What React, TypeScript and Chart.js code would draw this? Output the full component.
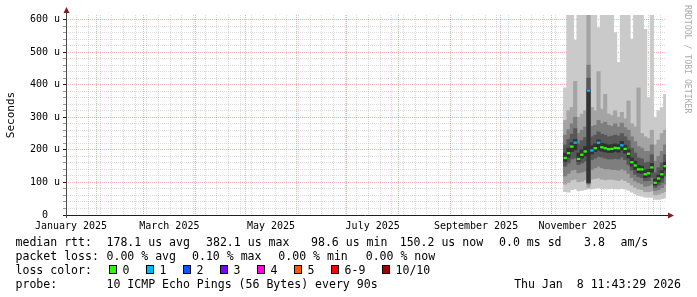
import React, { useEffect, useRef } from 'react';
import { Chart, registerables } from 'chart.js';

Chart.register(...registerables);

// ---------------- data ----------------
// centre date of each 2-day consolidated step
const STEP_DATES = [
  '2025-11-09', '2025-11-11', '2025-11-13', '2025-11-15', '2025-11-17', '2025-11-19',
  '2025-11-21', '2025-11-23', '2025-11-25', '2025-11-27', '2025-11-29', '2025-12-01',
  '2025-12-03', '2025-12-05', '2025-12-07', '2025-12-09', '2025-12-11', '2025-12-13',
  '2025-12-15', '2025-12-17', '2025-12-19', '2025-12-21', '2025-12-23', '2025-12-25',
  '2025-12-27', '2025-12-29', '2025-12-31', '2026-01-02', '2026-01-04', '2026-01-06',
  '2026-01-08',
];
const STEP_DAYS = 2;

// median rtt (microseconds)
const MEDIAN_US = [175, 190, 210, 222, 172, 185, 195, 382, 198, 205, 222, 208, 205, 202, 203, 206, 205, 214, 203, 188, 162, 152, 140, 140, 125, 128, 146, 99, 112, 125, 150];
// lost pings out of 10 for each step
const LOSS_PINGS = [0, 0, 0, 1, 0, 0, 0, 1, 1, 0, 1, 0, 0, 0, 0, 0, 0, 1, 0, 0, 0, 0, 0, 0, 0, 0, 0, 0, 0, 0, 0];

// sorted ping ranks (microseconds), 1 = fastest, 10 = slowest
const PING_1 = [72, 70, 78, 80, 75, 76, 78, 80, 80, 82, 84, 82, 80, 80, 82, 80, 80, 82, 80, 76, 70, 65, 60, 58, 55, 55, 54, 48, 48, 50, 52];
const PING_2 = [95, 100, 108, 110, 102, 104, 108, 85, 110, 112, 114, 110, 108, 110, 110, 108, 106, 110, 106, 100, 92, 85, 80, 78, 72, 72, 74, 62, 64, 68, 72];
const PING_3 = [120, 128, 138, 140, 130, 132, 135, 95, 140, 145, 150, 145, 142, 142, 140, 140, 138, 142, 138, 128, 115, 105, 100, 96, 88, 90, 95, 75, 78, 84, 95];
const PING_4 = [150, 160, 172, 175, 155, 160, 165, 98, 170, 175, 180, 178, 175, 172, 172, 174, 172, 178, 170, 155, 138, 125, 118, 115, 105, 106, 115, 85, 92, 100, 120];
const PING_5 = [165, 178, 195, 200, 165, 175, 182, 100, 188, 195, 200, 196, 194, 192, 192, 195, 193, 200, 190, 175, 150, 140, 130, 128, 115, 118, 132, 92, 102, 114, 138];
const PING_6 = [190, 205, 222, 232, 190, 200, 210, 385, 212, 218, 230, 220, 218, 215, 216, 218, 216, 226, 214, 200, 175, 165, 152, 150, 136, 140, 158, 110, 122, 136, 162];
const PING_7 = [215, 232, 248, 265, 218, 228, 238, 420, 240, 245, 255, 248, 245, 240, 242, 245, 242, 250, 240, 228, 205, 190, 175, 172, 160, 162, 185, 130, 145, 160, 185];
const PING_8 = [245, 262, 280, 300, 250, 260, 270, 460, 272, 275, 290, 280, 285, 275, 272, 280, 270, 282, 268, 260, 240, 225, 210, 205, 195, 195, 215, 165, 180, 195, 215];
const PING_9 = [290, 320, 330, 410, 300, 310, 320, 700, 330, 320, 440, 325, 370, 310, 305, 320, 300, 315, 295, 350, 280, 270, 390, 250, 240, 235, 260, 215, 230, 250, 260];
const PING_10 = [390, 700, 700, 537, 700, 700, 700, 700, 700, 700, 575, 700, 700, 700, 700, 560, 468, 700, 700, 700, 540, 700, 700, 700, 570, 360, 700, 300, 320, 330, 370];

// axes
const Y_MAX_US = 614;
const Y_TICKS_US = [0, 20, 40, 60, 80, 100, 120, 140, 160, 180, 200, 220, 240, 260, 280, 300, 320, 340, 360, 380, 400, 420, 440, 460, 480, 500, 520, 540, 560, 580, 600];
const Y_MAJOR_US = 100;
const GRAPH_END = '2026-01-08T11:43:29Z';
const GRAPH_SPAN_DAYS = 360;
const MONTH_STARTS = ['2025-01-01', '2025-02-01', '2025-03-01', '2025-04-01', '2025-05-01', '2025-06-01', '2025-07-01', '2025-08-01', '2025-09-01', '2025-10-01', '2025-11-01', '2025-12-01', '2026-01-01'];
const MONTH_LABEL_DATES = ['2025-01-01', '2025-03-01', '2025-05-01', '2025-07-01', '2025-09-01', '2025-11-01'];
const MONTH_LABELS = ['January 2025', 'March 2025', 'May 2025', 'July 2025', 'September 2025', 'November 2025'];
const WEEK_ANCHOR_MONDAY = '2024-12-30';

// legend
const LOSS_LABELS = ['0', '1', '2', '3', '4', '5', '6-9', '10/10'];
const LOSS_COLORS = ['#26ff00', '#00b8ff', '#0059ff', '#7e00ff', '#ff00ea', '#ff5600', '#ff0000', '#a10000'];
const RTT_PARTS = ['median rtt:', '178.1 us avg', '382.1 us max', '98.6 us min', '150.2 us now', '0.0 ms sd', '3.8', 'am/s'];
const LOSS_PARTS = ['packet loss:', '0.00 % avg', '0.10 % max', '0.00 % min', '0.00 % now'];
const LOSS_TITLE = 'loss color:';
const PROBE_PARTS = ['probe:', '10 ICMP Echo Pings (56 Bytes) every 90s'];
const STAMP = 'Thu Jan  8 11:43:29 2026';
const WATERMARK = 'RRDTOOL / TOBI OETIKER';
const Y_TITLE = 'Seconds';

// ---------------- styling / layout ----------------
const MONO = '"DejaVu Sans Mono", monospace';
const SMOKE_COLORS = ['#cacaca', '#a4a4a4', '#7e7e7e', '#585858', '#323232'];
const GRID_MINOR = 'rgba(143,143,143,0.32)';
const GRID_MAJOR = 'rgba(222,79,79,0.45)';
const AXIS_COLOR = '#1f1f1f';
const ARROW_COLOR = '#801f1f';
const PLOT_W = 600;
const MEDIAN_HALF_US = 3.5;
const LABEL_OFFSET_DAYS = 15.5;
const RTT_X = [15.5, 106.5, 206, 311, 399.7, 499, 584, 620.5];
const LOSS_X = [15.5, 106.5, 192, 278.3, 365.7];
const PROBE_X = [15.5, 106.5];
const LEGEND_ADV = 6.96;

const DAY0 = Date.UTC(2025, 0, 1);
const toDay = (iso: string) => (Date.parse(iso) - DAY0) / 864e5;

const X_MAX = toDay(GRAPH_END);
const X_MIN = X_MAX - GRAPH_SPAN_DAYS;
const BAR_PX = (STEP_DAYS * PLOT_W) / GRAPH_SPAN_DAYS;

function lossColor(n: number) {
  if (n >= 10) return LOSS_COLORS[7];
  if (n >= 6) return LOSS_COLORS[6];
  return LOSS_COLORS[n];
}

function buildXTicks() {
  const ticks: any[] = [];
  const months = MONTH_STARTS.map(toDay);
  const monthSet = new Set(months);
  for (let d = toDay(WEEK_ANCHOR_MONDAY); d <= X_MAX; d += 7) {
    if (d >= X_MIN && !monthSet.has(d)) ticks.push({ value: d, kind: 'minor' });
  }
  months.forEach((d) => {
    if (d >= X_MIN && d <= X_MAX) ticks.push({ value: d, kind: 'major' });
  });
  MONTH_LABEL_DATES.forEach((iso, i) => {
    ticks.push({ value: toDay(iso) + LABEL_OFFSET_DAYS, kind: 'label', text: MONTH_LABELS[i] });
  });
  ticks.sort((a, b) => a.value - b.value);
  return ticks;
}

const decorPlugin = {
  id: 'rrdDecor',
  afterDraw(chart: any) {
    const { ctx, chartArea: a } = chart;
    ctx.save();
    // axes
    ctx.lineWidth = 1;
    ctx.strokeStyle = AXIS_COLOR;
    ctx.beginPath();
    ctx.moveTo(a.left - 3, a.bottom + 0.5);
    ctx.lineTo(a.right + 2, a.bottom + 0.5);
    ctx.stroke();
    ctx.strokeStyle = '#4a4a4a';
    ctx.beginPath();
    ctx.moveTo(a.left + 0.5, a.bottom + 3);
    ctx.lineTo(a.left + 0.5, a.top - 2);
    ctx.stroke();
    // arrows
    ctx.fillStyle = ARROW_COLOR;
    ctx.beginPath();
    ctx.moveTo(a.right + 8, a.bottom + 0.5);
    ctx.lineTo(a.right + 2, a.bottom - 2.5);
    ctx.lineTo(a.right + 2, a.bottom + 3.5);
    ctx.closePath();
    ctx.fill();
    ctx.beginPath();
    ctx.moveTo(a.left + 0.5, a.top - 8);
    ctx.lineTo(a.left - 2.5, a.top - 2);
    ctx.lineTo(a.left + 3.5, a.top - 2);
    ctx.closePath();
    ctx.fill();

    // watermark
    ctx.save();
    ctx.translate(687, 5);
    ctx.rotate(Math.PI / 2);
    ctx.font = `8.2px ${MONO}`;
    ctx.fillStyle = '#aaaaaa';
    ctx.textAlign = 'left';
    ctx.textBaseline = 'middle';
    ctx.fillText(WATERMARK, 0, 0);
    ctx.restore();

    // legend text
    ctx.font = `${LEGEND_ADV / 0.602}px ${MONO}`;
    ctx.fillStyle = '#000';
    ctx.textAlign = 'left';
    ctx.textBaseline = 'alphabetic';
    RTT_PARTS.forEach((t, i) => ctx.fillText(t, RTT_X[i], 245.5));
    LOSS_PARTS.forEach((t, i) => ctx.fillText(t, LOSS_X[i], 259.5));
    ctx.fillText(LOSS_TITLE, 15.5, 273.5);
    PROBE_PARTS.forEach((t, i) => ctx.fillText(t, PROBE_X[i], 287.5));
    ctx.textAlign = 'right';
    ctx.fillText(STAMP, 681, 287.5);
    ctx.textAlign = 'left';

    let bx = 109;
    LOSS_LABELS.forEach((lab, i) => {
      ctx.fillStyle = LOSS_COLORS[i];
      ctx.fillRect(bx, 265, 8, 9);
      ctx.strokeStyle = '#000';
      ctx.strokeRect(bx + 0.5, 265.5, 7, 8);
      ctx.fillStyle = '#000';
      const lx = bx + 13.5;
      ctx.fillText(lab, lx, 273.5);
      bx = Math.round(lx + lab.length * LEGEND_ADV + 16.5);
    });
    ctx.restore();
  },
};

export default function App() {
  const ref = useRef<HTMLCanvasElement>(null);

  useEffect(() => {
    const canvas = ref.current;
    if (!canvas) return;
    const xs = STEP_DATES.map(toDay);
    const pairs = [
      [PING_1, PING_10],
      [PING_2, PING_9],
      [PING_3, PING_8],
      [PING_4, PING_7],
      [PING_5, PING_6],
    ];
    const smoke = pairs.map(([lo, hi], k) => ({
      type: 'bar' as const,
      data: xs.map((x, i) => ({ x, y: [lo[i], hi[i]] })),
      backgroundColor: SMOKE_COLORS[k],
      borderWidth: 0,
      grouped: false,
      barThickness: BAR_PX,
      inflateAmount: 0.4,
      order: 5 - k,
    }));
    const median = {
      type: 'bar' as const,
      data: xs.map((x, i) => ({ x, y: [MEDIAN_US[i] - MEDIAN_HALF_US, MEDIAN_US[i] + MEDIAN_HALF_US] })),
      backgroundColor: LOSS_PINGS.map(lossColor),
      borderWidth: 0,
      grouped: false,
      barThickness: BAR_PX,
      inflateAmount: 0,
      order: 0,
    };

    const chart = new Chart(canvas, {
      type: 'bar',
      data: { datasets: [median, ...smoke] as any },
      plugins: [decorPlugin],
      options: {
        animation: false,
        responsive: false,
        devicePixelRatio: 1,
        events: [],
        layout: { padding: { left: 0, right: 31, top: 15, bottom: 62 } },
        plugins: { legend: { display: false }, tooltip: { enabled: false } },
        scales: {
          x: {
            type: 'linear',
            min: X_MIN,
            max: X_MAX,
            bounds: 'data',
            offset: false,
            z: 1,
            grid: {
              offset: false,
              drawTicks: false,
              lineWidth: 1,
              borderDash: [1, 1],
              color: (c: any) => {
                const k = c.tick && c.tick.kind;
                return k === 'major' ? GRID_MAJOR : k === 'minor' ? GRID_MINOR : 'rgba(0,0,0,0)';
              },
            } as any,
            border: { display: false, dash: [1, 1] },
            ticks: {
              autoSkip: false,
              maxRotation: 0,
              minRotation: 0,
              padding: 5,
              color: '#000',
              font: { family: MONO, size: 10 },
              callback: (_v: any, i: number, ticks: any[]) => (ticks[i] && ticks[i].text) || '',
            },
            afterBuildTicks: (s: any) => {
              s.ticks = buildXTicks();
            },
            afterFit: (s: any) => {
              s.height = 20;
            },
          } as any,
          y: {
            type: 'linear',
            min: 0,
            max: Y_MAX_US,
            bounds: 'data',
            z: 1,
            grid: {
              lineWidth: 1,
              drawTicks: true,
              tickLength: 3,
              borderDash: [1, 1],
              color: (c: any) => {
                if (!c.tick) return 'rgba(0,0,0,0)';
                return c.tick.value % Y_MAJOR_US === 0 ? GRID_MAJOR : GRID_MINOR;
              },
              tickColor: (c: any) => {
                if (!c.tick) return 'rgba(0,0,0,0)';
                return c.tick.value % Y_MAJOR_US === 0 ? AXIS_COLOR : '#9a9a9a';
              },
            } as any,
            border: { display: false, dash: [1, 1] },
            ticks: {
              autoSkip: false,
              padding: 3,
              color: '#000',
              font: { family: MONO, size: 10 },
              callback: (v: any) => {
                const n = Number(v);
                if (n % Y_MAJOR_US !== 0) return '';
                return n === 0 ? '0  ' : `${n} u`;
              },
            },
            title: {
              display: true,
              text: Y_TITLE,
              color: '#000',
              font: { family: MONO, size: 11 },
              padding: { top: 4.4, bottom: 0 },
            },
            afterBuildTicks: (s: any) => {
              s.ticks = Y_TICKS_US.map((v) => ({ value: v }));
            },
            afterFit: (s: any) => {
              s.width = 66;
            },
          } as any,
        },
      } as any,
    });
    return () => chart.destroy();
  }, []);

  return (
    <div style={{ position: 'absolute', left: 0, top: 0, width: 697, height: 297, background: '#fff' }}>
      <canvas ref={ref} width={697} height={297} style={{ display: 'block', width: 697, height: 297 }} />
    </div>
  );
}
